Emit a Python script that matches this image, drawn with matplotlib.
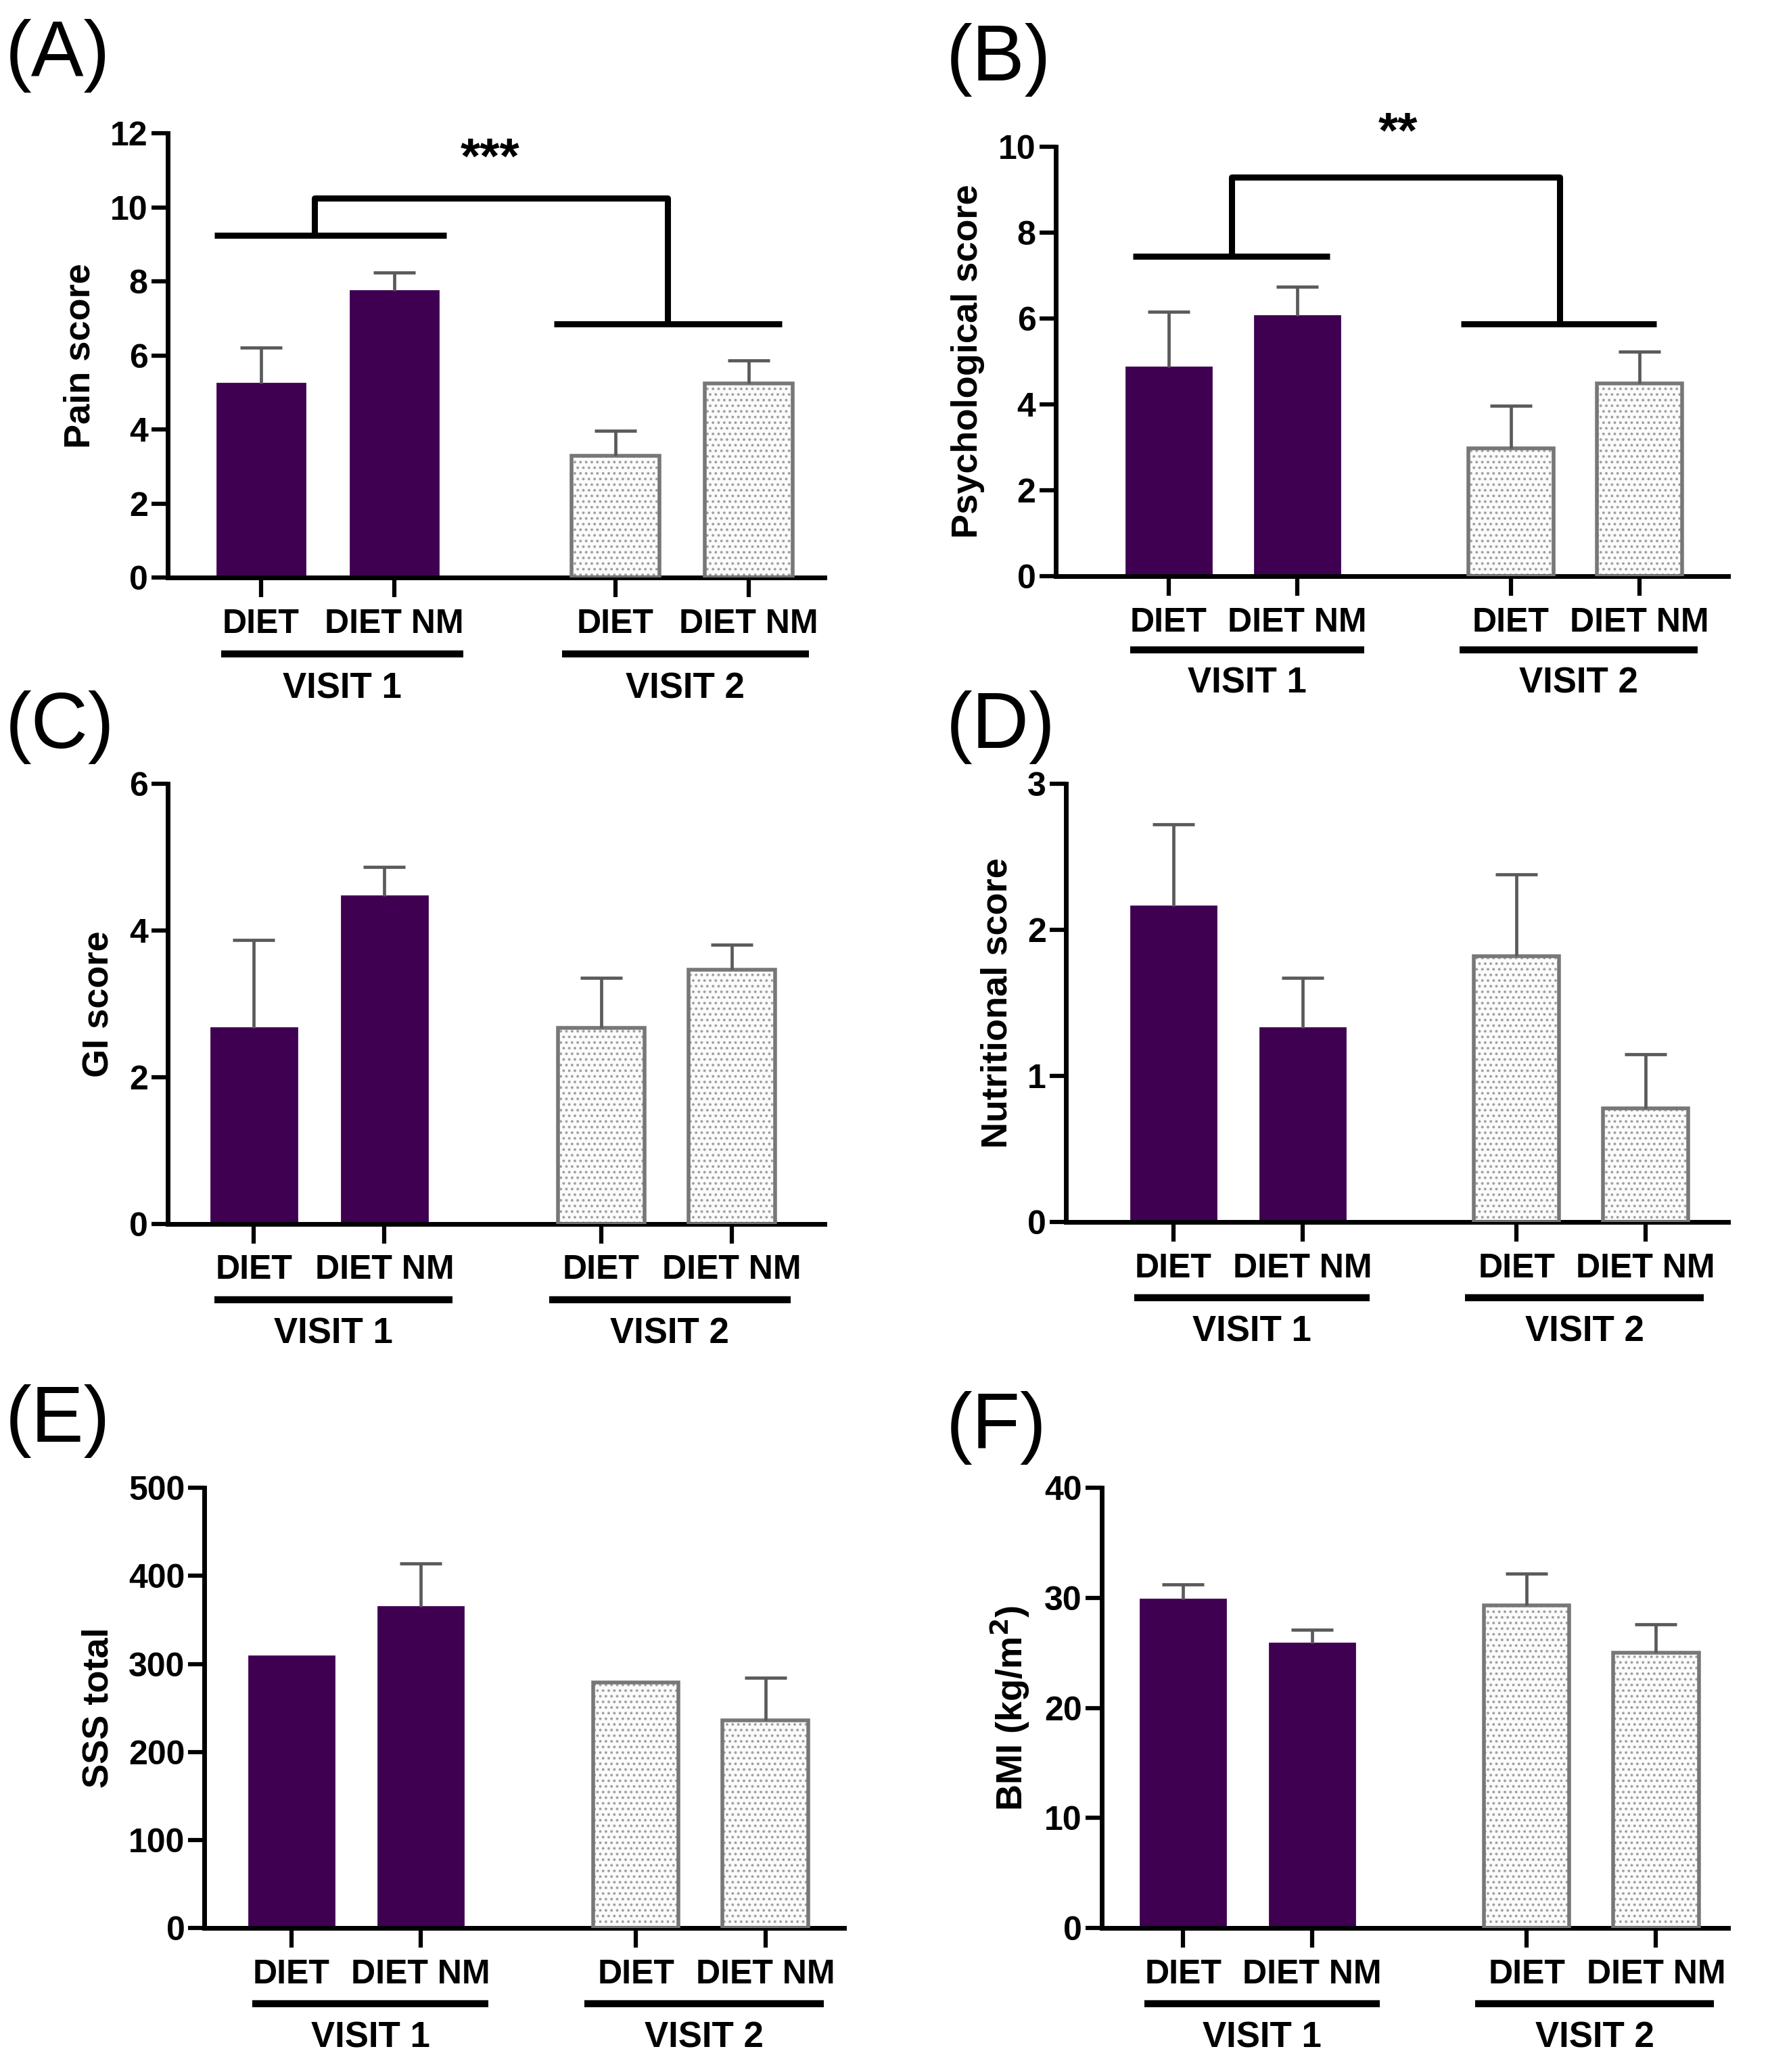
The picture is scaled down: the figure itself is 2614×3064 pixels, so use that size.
import matplotlib.pyplot as plt
import matplotlib.transforms as mtransforms

plt.rcParams['font.family'] = ['Liberation Sans', 'DejaVu Sans']
plt.rcParams['hatch.linewidth'] = 1.6

groups = ['DIET', 'DIET NM', 'DIET', 'DIET NM']
visits = ['VISIT 1', 'VISIT 2']

pain_mean = [5.25, 7.75, 3.29, 5.25]
pain_sem = [0.96, 0.50, 0.67, 0.61]
psych_mean = [4.86, 6.06, 2.98, 4.49]
psych_sem = [1.29, 0.68, 0.99, 0.74]
gi_mean = [2.67, 4.47, 2.67, 3.46]
gi_sem = [1.20, 0.39, 0.68, 0.34]
nutr_mean = [2.16, 1.33, 1.82, 0.78]
nutr_sem = [0.56, 0.34, 0.56, 0.37]
sss_mean = [309, 365, 279, 236]
sss_sem = [0, 49, 0, 48]
bmi_mean = [29.9, 25.9, 29.3, 25.0]
bmi_sem = [1.3, 1.2, 2.9, 2.6]

xpos = [0, 1, 2.66, 3.66]
dark = '#3f0052'

fig = plt.figure(figsize=(26.14, 30.64), dpi=100)

# (letter, rect, xlim, ylabel, ymax, ystep, mean, sem, letter xy)
panels = [
    ('(A)', [0.0948, 0.7213, 0.3716, 0.2143], (-0.70, 4.23), 'Pain score', 12, 2,
     pain_mean, pain_sem, (0.003, 0.973)),
    ('(B)', [0.597, 0.7219, 0.3806, 0.2073], (-0.88, 4.35), 'Psychological score', 10, 2,
     psych_mean, psych_sem, (0.535, 0.971)),
    ('(C)', [0.0948, 0.4094, 0.3716, 0.2124], (-0.66, 4.37), 'GI score', 6, 2,
     gi_mean, gi_sem, (0.003, 0.649)),
    ('(D)', [0.603, 0.4101, 0.3746, 0.2117], (-0.83, 4.30), 'Nutritional score', 3, 1,
     nutr_mean, nutr_sem, (0.535, 0.649)),
    ('(E)', [0.1157, 0.0695, 0.3619, 0.2124], (-0.67, 4.27), 'SSS total', 500, 100,
     sss_mean, sss_sem, (0.003, 0.314)),
    ('(F)', [0.6231, 0.0695, 0.3545, 0.2124], (-0.63, 4.22), 'BMI (kg/m$^{\\mathbf{2}}$)', 40, 10,
     bmi_mean, bmi_sem, (0.535, 0.311)),
]

axes = []
for letter, rect, xl, ylab, ymax, ystep, mean, sem, lxy in panels:
    ax = fig.add_axes(rect)
    axes.append(ax)
    w = 0.66
    # visit 1 solid bars
    ax.bar(xpos[:2], mean[:2], width=w, color=dark, edgecolor=dark, linewidth=2, zorder=2)
    # visit 2 dotted bars
    ax.bar(xpos[2:], mean[2:], width=w, color='#fbfbfb', edgecolor='#a0a0a0',
           hatch='..', linewidth=0, zorder=2)
    ax.bar(xpos[2:], mean[2:], width=w, fill=False, edgecolor='#777777', linewidth=4, zorder=3)

    # upper error bars only (mean + SEM)
    ex = [x for x, s in zip(xpos, sem) if s > 0]
    ey = [m for m, s in zip(mean, sem) if s > 0]
    es = [s for s in sem if s > 0]
    eb = ax.errorbar(ex, ey, yerr=[[0] * len(es), es], fmt='none', ecolor='#5a5a5a',
                     elinewidth=3.4, capsize=22, capthick=3.4, zorder=4)
    eb[1][0].set_visible(False)

    ax.set_xlim(*xl)
    ax.set_ylim(0, ymax)
    ax.set_yticks(range(0, ymax + 1, ystep))
    ax.set_xticks(xpos)
    ax.set_xticklabels(groups)
    ax.spines['top'].set_visible(False)
    ax.spines['right'].set_visible(False)
    ax.spines['left'].set_linewidth(5)
    ax.spines['bottom'].set_linewidth(5)
    ax.tick_params(axis='y', length=17, width=4.5, labelsize=36, pad=4)
    ax.tick_params(axis='x', length=21, width=4.5, labelsize=36, pad=12)
    for lab in ax.get_xticklabels() + ax.get_yticklabels():
        lab.set_fontweight('bold')
    ax.set_ylabel(ylab, fontsize=39, fontweight='bold', labelpad=14)

    # visit underlines and labels
    tr = mtransforms.blended_transform_factory(ax.transData, ax.transAxes)
    spans = [(xpos[0] - 0.3, xpos[1] + 0.52), (xpos[2] - 0.4, xpos[3] + 0.45)]
    for (a, b), v in zip(spans, visits):
        ax.plot([a, b], [-0.172, -0.172], color='black', lw=7.5, transform=tr,
                clip_on=False, solid_capstyle='butt')
        ax.text((a + b) / 2, -0.25, v, transform=tr, ha='center', va='center',
                fontsize=38, fontweight='bold')

    fig.text(lxy[0], lxy[1], letter, fontsize=84, ha='left', va='center')

# significance brackets
brackets = [
    (axes[0], (-0.35, 1.39, 9.25), (2.20, 3.91, 6.86), (0.40, 3.05, 10.25), (1.72, 11.3), '***'),
    (axes[1], (-0.28, 1.25, 7.45), (2.27, 3.79, 5.88), (0.49, 3.04, 9.29), (1.78, 10.3), '**'),
]
for ax, l1, l2, top, star_xy, star in brackets:
    kw = dict(color='black', lw=6.5, clip_on=False, zorder=5, solid_capstyle='butt')
    ax.plot([l1[0], l1[1]], [l1[2], l1[2]], **kw)
    ax.plot([l2[0], l2[1]], [l2[2], l2[2]], **kw)
    ax.plot([top[0], top[0], top[1], top[1]], [l1[2], top[2], top[2], l2[2]], **kw)
    ax.text(star_xy[0], star_xy[1], star, ha='center', va='center', fontsize=54,
            fontweight='bold')

fig.savefig('out.png', dpi=100, facecolor='white')
